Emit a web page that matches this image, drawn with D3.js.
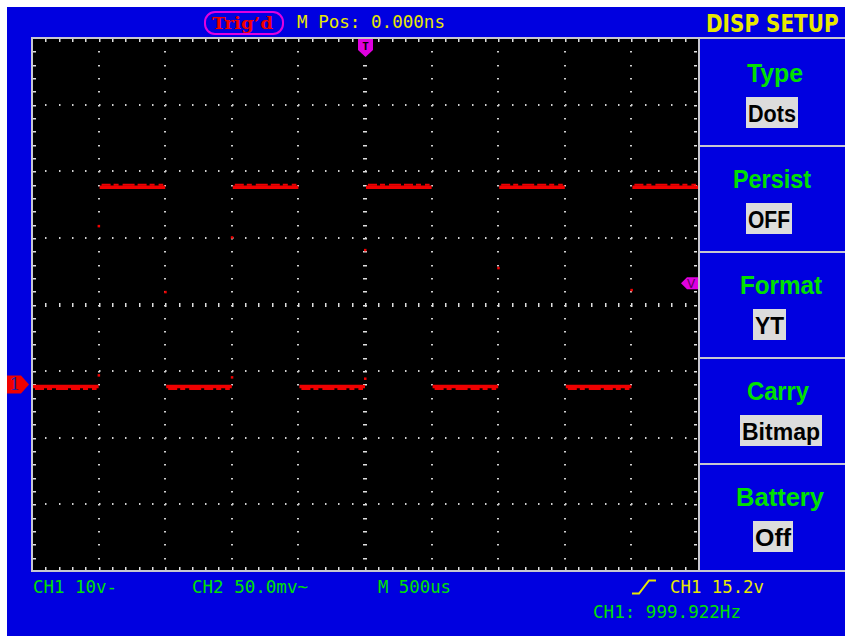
<!DOCTYPE html>
<html><head><meta charset="utf-8">
<script src="https://cdn.jsdelivr.net/npm/d3@7"></script>
<style>html,body{margin:0;padding:0;background:#fff;}svg{display:block;}</style>
</head><body>
<svg id="c" width="845" height="636"></svg>
<script>
// ---- data ----
const timeDomain = [-2.5, 2.5];          // ms (500us/div, 10 div)
const voltDomain = [-28, 52];            // V (10V/div, 8 div)
const risingEdges = [-2.0, -1.0, 0.0, 1.0, 2.0];   // ms
const fallingEdges = [-1.5, -0.5, 0.5, 1.5];       // ms
const highLevel = 29.6;                  // V
const lowLevel = -0.3;                   // V
const triggerLevel = 15.2;               // V
const edgeDots = [[-2.0, 23.8], [-2.0, 1.4], [-1.5, 13.9], [-1.0, 22.1], [-1.0, 1.1], [0.0, 20.2], [0.0, 0.9], [1.0, 17.5], [2.0, 14.2]];
const menuTitles = ["Type", "Persist", "Format", "Carry", "Battery"];
const menuValues = ["Dots", "OFF", "YT", "Bitmap", "Off"];
const menuBoxX = [[746, 798], [746, 792], [753, 786], [740, 822], [753, 793]];
const menuTitleX = [[747, 803], [733, 811], [740, 822], [747, 809], [736, 824]];

const svg = d3.select("#c");
const BLUE = "#0000e0", GREEN = "#00e000", YEL = "#e8e800", MAG = "#e000e0", RED = "#f00000", GRAY = "#c8c8d0";

svg.append("rect").attr("x", 7).attr("y", 7).attr("width", 838).attr("height", 629).attr("fill", BLUE);

const x = d3.scaleLinear().domain(timeDomain).range([32, 698]);
const y = d3.scaleLinear().domain(voltDomain).range([571, 38]);

// plot area
svg.append("rect").attr("x", 32).attr("y", 38).attr("width", 666).attr("height", 533).attr("fill", "#000");

// grid
const g = svg.append("g");
const majorX = d3.range(-2.0, 2.01, 0.5).map(v => +v.toFixed(2));
const majorY = d3.range(-18, 43, 10);
const minorX = d3.range(-2.4, 2.41, 0.1).map(v => +v.toFixed(2));
const minorY = d3.range(-26, 51, 2);
const dotC = "#d0d0d0";
majorX.filter(t => t !== 0).forEach(t => {
  minorY.forEach(v => g.append("rect").attr("x", Math.round(x(t)) - 1).attr("y", Math.round(y(v))).attr("width", 2).attr("height", 1.5).attr("fill", dotC));
});
majorY.filter(v => v !== 12).forEach(v => {
  minorX.forEach(t => g.append("rect").attr("x", Math.round(x(t))).attr("y", Math.round(y(v)) - 1).attr("width", 1.5).attr("height", 2).attr("fill", dotC));
});
// center cross ticks
minorX.forEach(t => g.append("rect").attr("x", Math.round(x(t))).attr("y", Math.round(y(12)) - 2).attr("width", 1.5).attr("height", 4).attr("fill", "#e0e0e0"));
minorY.forEach(v => g.append("rect").attr("x", Math.round(x(0)) - 2).attr("y", Math.round(y(v))).attr("width", 4).attr("height", 1.5).attr("fill", "#e0e0e0"));
// edge ticks
minorX.forEach(t => {
  g.append("rect").attr("x", Math.round(x(t))).attr("y", 39).attr("width", 1.5).attr("height", 3).attr("fill", "#e0e0e0");
  g.append("rect").attr("x", Math.round(x(t))).attr("y", 567).attr("width", 1.5).attr("height", 3).attr("fill", "#e0e0e0");
});
minorY.forEach(v => {
  g.append("rect").attr("x", 33).attr("y", Math.round(y(v))).attr("width", 3).attr("height", 1.5).attr("fill", "#e0e0e0");
  g.append("rect").attr("x", 694).attr("y", Math.round(y(v))).attr("width", 3).attr("height", 1.5).attr("fill", "#e0e0e0");
});

// borders
svg.append("rect").attr("x", 31).attr("y", 37).attr("width", 814).attr("height", 2).attr("fill", GRAY);
svg.append("rect").attr("x", 31).attr("y", 570).attr("width", 814).attr("height", 2).attr("fill", GRAY);
svg.append("rect").attr("x", 31).attr("y", 37).attr("width", 2).attr("height", 535).attr("fill", GRAY);
svg.append("rect").attr("x", 698).attr("y", 37).attr("width", 2).attr("height", 535).attr("fill", GRAY);

// waveform segments
const edges = [...risingEdges.map(t => ({t, type: "r"})), ...fallingEdges.map(t => ({t, type: "f"}))].sort((a, b) => a.t - b.t);
const segs = [];
let cur = timeDomain[0], level = lowLevel;
edges.forEach(e => { segs.push({t0: cur, t1: e.t, v: level}); cur = e.t; level = e.type === "r" ? highLevel : lowLevel; });
segs.push({t0: cur, t1: timeDomain[1], v: level});
const tr = svg.append("g");
tr.selectAll("line.base").data(segs).join("line")
  .attr("x1", d => x(d.t0) + 1).attr("x2", d => x(d.t1)).attr("y1", d => y(d.v)).attr("y2", d => y(d.v))
  .attr("stroke", RED).attr("stroke-width", 3.5);
tr.selectAll("line.noise").data(segs).join("line")
  .attr("x1", d => x(d.t0) + 3).attr("x2", d => x(d.t1) - 2)
  .attr("y1", d => y(d.v) + (d.v > 10 ? -2.5 : 2.5)).attr("y2", d => y(d.v) + (d.v > 10 ? -2.5 : 2.5))
  .attr("stroke", RED).attr("stroke-width", 2).attr("stroke-dasharray", "9 3 5 4 12 3");
tr.selectAll("rect.ed").data(edgeDots).join("rect")
  .attr("x", d => x(d[0]) - 1).attr("y", d => y(d[1]) - 1).attr("width", 2.5).attr("height", 2.5).attr("fill", RED);

// trigger T marker
const tx = x(0);
svg.append("path").attr("d", `M${tx-7},39 H${tx+8} V50 L${tx+0.5},57 L${tx-7},50 Z`).attr("fill", MAG);
svg.append("text").attr("x", tx + 0.5).attr("y", 50).attr("text-anchor", "middle").attr("font-family", "DejaVu Sans Mono").attr("font-weight", "bold").attr("font-size", 11).attr("fill", "#000").text("T");

// trigger level marker
const ty = y(triggerLevel);
svg.append("path").attr("d", `M698,${ty-6} H687 L681,${ty} L687,${ty+6} H698 Z`).attr("fill", MAG);
svg.append("text").attr("x", 691).attr("y", ty + 4.5).attr("text-anchor", "middle").attr("font-family", "DejaVu Sans").attr("font-size", 12).attr("fill", "#600060").text("V");

// CH1 ground marker
const gy = y(0);
svg.append("path").attr("d", `M7,${gy-9} H21 L29,${gy} L21,${gy+9} H7 Z`).attr("fill", RED);
svg.append("text").attr("x", 15).attr("y", gy + 6).attr("text-anchor", "middle").attr("font-family", "DejaVu Serif").attr("font-size", 17).attr("fill", "#2020a0").text("1");

// header
svg.append("rect").attr("x", 205).attr("y", 12).attr("width", 78).attr("height", 22).attr("rx", 10).attr("fill", "none").attr("stroke", MAG).attr("stroke-width", 2);
svg.append("text").attr("x", 212).attr("y", 29).attr("font-family", "DejaVu Serif").attr("font-weight", "bold").attr("font-size", 17).attr("fill", RED)
  .attr("textLength", 61).attr("lengthAdjust", "spacingAndGlyphs").text("Trig’d");
const mono = "DejaVu Sans Mono";
function mtext(t, x0, yb, col, len) {
  const el = svg.append("text").attr("x", x0).attr("y", yb).attr("font-family", mono).attr("font-size", 17.5).attr("fill", col).text(t);
  if (len) el.attr("textLength", len).attr("lengthAdjust", "spacingAndGlyphs");
  return el;
}
mtext("M Pos: 0.000ns", 297, 28, YEL, 148);
svg.append("text").attr("transform", "translate(706,32) scale(1,1.22)").attr("font-family", "DejaVu Sans").attr("font-weight", "bold").attr("font-size", 20).attr("fill", YEL)
  .text("DISP SETUP");

// footer
mtext("CH1 10v-", 33, 593, GREEN, 84);
mtext("CH2 50.0mv~", 192, 593, GREEN, 116);
mtext("M 500us", 378, 593, GREEN, 73);
svg.append("path").attr("d", "M632,593.5 H639 L649,580.5 H656").attr("fill", "none").attr("stroke", YEL).attr("stroke-width", 2);
mtext("CH1 15.2v", 670, 593, YEL, 94);
mtext("CH1: 999.922Hz", 593, 618, GREEN, 148);

// menu
const sectH = 106, top0 = 40;
menuTitles.forEach((t, i) => {
  const st = top0 + i * sectH;
  if (i > 0) svg.append("rect").attr("x", 700).attr("y", st - 1).attr("width", 145).attr("height", 2).attr("fill", GRAY);
  const tx0 = menuTitleX[i];
  svg.append("text").attr("x", tx0[0]).attr("y", st + 42).attr("font-family", "Liberation Sans").attr("font-weight", "bold").attr("font-size", 25).attr("fill", GREEN)
    .attr("textLength", tx0[1] - tx0[0]).attr("lengthAdjust", "spacingAndGlyphs").text(t);
  const b = menuBoxX[i];
  svg.append("rect").attr("x", b[0]).attr("y", st + 57).attr("width", b[1] - b[0]).attr("height", 31).attr("fill", "#dcdcdc");
  svg.append("text").attr("x", b[0] + 2).attr("y", st + 82).attr("font-family", "Liberation Sans").attr("font-weight", "bold").attr("font-size", 23).attr("fill", "#000")
    .attr("textLength", b[1] - b[0] - 4).attr("lengthAdjust", "spacingAndGlyphs").text(menuValues[i]);
});
</script>
</body></html>
